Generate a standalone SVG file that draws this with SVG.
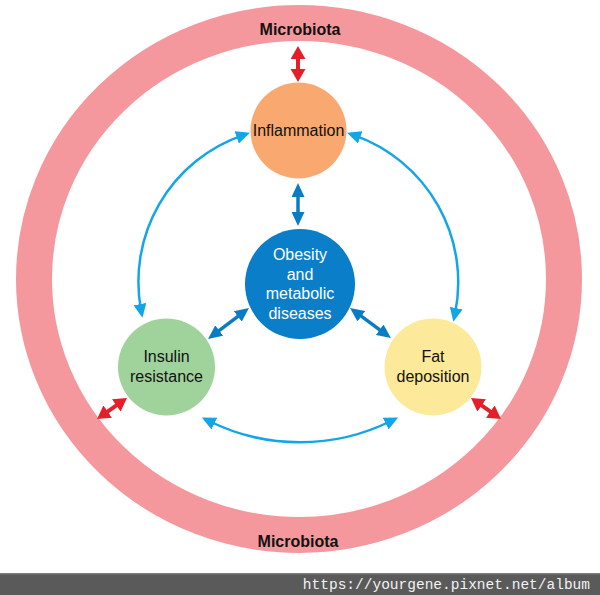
<svg xmlns="http://www.w3.org/2000/svg" width="600" height="595" viewBox="0 0 600 595">
<defs>
<style>
.lbl{font-family:"Liberation Sans",Arial,sans-serif;font-size:16px;text-anchor:middle;fill:#111}
.wht{fill:#ffffff}
.mb{font-family:"Liberation Sans",Arial,sans-serif;font-size:16px;font-weight:bold;text-anchor:middle;fill:#111}
.lb{fill:none;stroke:#12a6e6;stroke-width:2.5;marker-start:url(#mLB);marker-end:url(#mLB)}
.db{fill:none;stroke:#0a7cc4;stroke-width:3.5;marker-start:url(#mDB);marker-end:url(#mDB)}
.rd{fill:none;stroke:#e51e2a;stroke-width:4;marker-start:url(#mR);marker-end:url(#mR)}
</style>
<marker id="mLB" markerUnits="userSpaceOnUse" markerWidth="14" markerHeight="13" refX="6" refY="6.5" orient="auto-start-reverse"><path d="M0,0 L14,6.5 L0,13 z" fill="#12a6e6"/></marker>
<marker id="mDB" markerUnits="userSpaceOnUse" markerWidth="14" markerHeight="13" refX="6" refY="6.5" orient="auto-start-reverse"><path d="M0,0 L14,6.5 L0,13 z" fill="#0a7cc4"/></marker>
<marker id="mR" markerUnits="userSpaceOnUse" markerWidth="13" markerHeight="15" refX="5" refY="7.5" orient="auto-start-reverse"><path d="M0,0 L13,7.5 L0,15 z" fill="#e51e2a"/></marker>
</defs>
<rect x="0" y="0" width="600" height="595" fill="#ffffff"/>
<g id="microbiota">
<ellipse cx="299" cy="279" rx="265" ry="256" fill="none" stroke="#f5989d" stroke-width="36"/>
<text class="mb" x="300" y="35">Microbiota</text>
<text class="mb" x="298" y="547">Microbiota</text>
</g>
<g id="connectors">
<path class="rd" d="M298,54 L298,74"/>
<path class="rd" d="M103.6,414.4 L120.4,402.6"/>
<path class="rd" d="M477.6,402.6 L494.4,414.4"/>
<path class="db" d="M298,191 L298,218"/>
<path class="db" d="M214.4,334.2 L242.6,312.8"/>
<path class="db" d="M356.5,312.7 L384.5,333.3"/>
<path class="lb" d="M141,310 A155,155 0 0 1 242.4,135.4"/>
<path class="lb" d="M354.6,135.4 A156,156 0 0 1 455,314"/>
<path class="lb" d="M209,421 A205,205 0 0 0 391,421"/>
</g>
<g id="inflammation">
<circle cx="298.5" cy="130.5" r="48" fill="#f9a870"/>
<text class="lbl" x="298.5" y="136">Inflammation</text>
</g>
<g id="obesity">
<circle cx="300" cy="284" r="55" fill="#0a7ec8"/>
<text class="lbl wht" x="300" y="260">Obesity</text>
<text class="lbl wht" x="300" y="279.5">and</text>
<text class="lbl wht" x="300" y="299">metabolic</text>
<text class="lbl wht" x="300" y="318.5">diseases</text>
</g>
<g id="insulin">
<circle cx="166.5" cy="367" r="48.5" fill="#a0d29b"/>
<text class="lbl" x="166.5" y="362">Insulin</text>
<text class="lbl" x="166.5" y="382">resistance</text>
</g>
<g id="fat">
<circle cx="433" cy="367" r="48.5" fill="#fde99a"/>
<text class="lbl" x="433" y="362">Fat</text>
<text class="lbl" x="433" y="382">deposition</text>
</g>
<g id="footer">
<rect x="0" y="573" width="600" height="22" fill="#5a5a5a"/>
<rect x="0" y="573" width="600" height="1.5" fill="#7a7a7a"/>
<text x="590" y="589" font-family="'Liberation Mono','DejaVu Sans Mono',monospace" font-size="14.5" text-anchor="end" fill="#f2f2f2">https://yourgene.pixnet.net/album</text>
</g>
</svg>
